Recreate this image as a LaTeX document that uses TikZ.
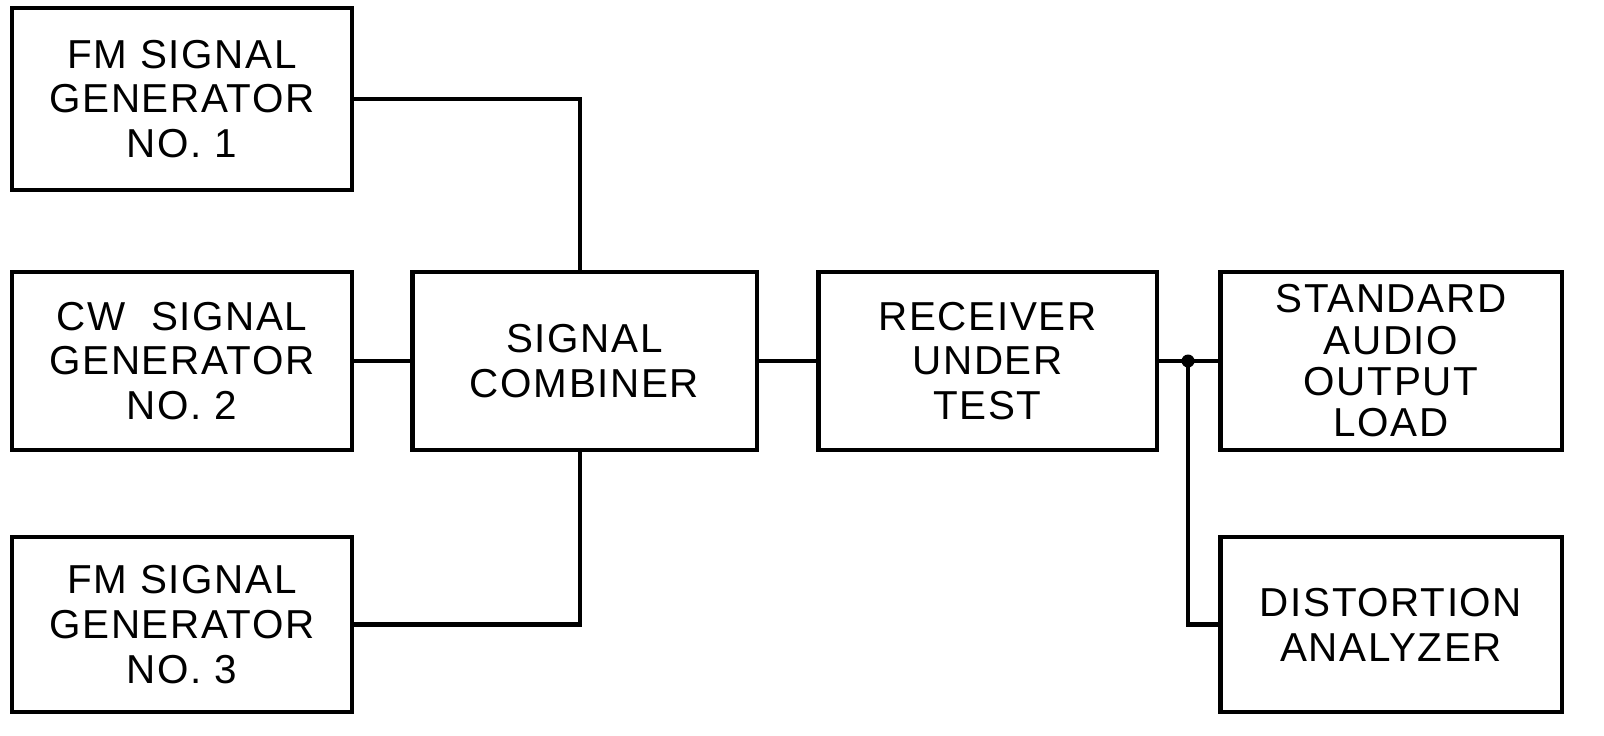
\documentclass[tikz,border=0pt]{standalone}
\usepackage{fontspec}
\setmainfont[LetterSpace=4]{Liberation Sans}
\begin{document}
\begin{tikzpicture}[x=0.02cm,y=-0.02cm,
  blk/.style={draw, line width=2.8pt, inner sep=0pt, outer sep=0pt, align=center,
    font=\fontsize{23}{25.5}\selectfont},
  wire/.style={line width=2.8pt}]
\useasboundingbox (0,0) rectangle (1604,736);
\node[blk, minimum width=6.8cm, minimum height=3.64cm] (fm1) at (182,99) {FM\ SIGNAL\\GENERATOR\\NO. 1};
\node[blk, minimum width=6.8cm, minimum height=3.56cm] (cw2) at (182,361) {CW\ \ SIGNAL\\GENERATOR\\NO. 2};
\node[blk, minimum width=6.8cm, minimum height=3.5cm] (fm3) at (182,624.5) {FM\ SIGNAL\\GENERATOR\\NO. 3};
\node[blk, minimum width=6.9cm, minimum height=3.56cm] (sc) at (584.5,361) {SIGNAL\\COMBINER};
\node[blk, minimum width=6.78cm, minimum height=3.56cm] (rx) at (987.5,361) {RECEIVER\\UNDER\\TEST};
\node[blk, minimum width=6.84cm, minimum height=3.56cm, font=\fontsize{23}{23.5}\selectfont] (sa) at (1391,361) {STANDARD\\AUDIO\\OUTPUT\\LOAD};
\node[blk, minimum width=6.84cm, minimum height=3.5cm] (da) at (1391,624.5) {DISTORTION\\ANALYZER};
\coordinate (j) at (1188,361);
\coordinate (t) at (580,0);
\draw[wire] (fm1.east) -| (t |- sc.north);
\draw[wire] (fm3.east) -| (t |- sc.south);
\draw[wire] (cw2.east) -- (sc.west);
\draw[wire] (sc.east) -- (rx.west);
\draw[wire] (rx.east) -- (sa.west);
\draw[wire] (j) |- (da.west);
\fill (j) circle (6.5);
\end{tikzpicture}
\end{document}
